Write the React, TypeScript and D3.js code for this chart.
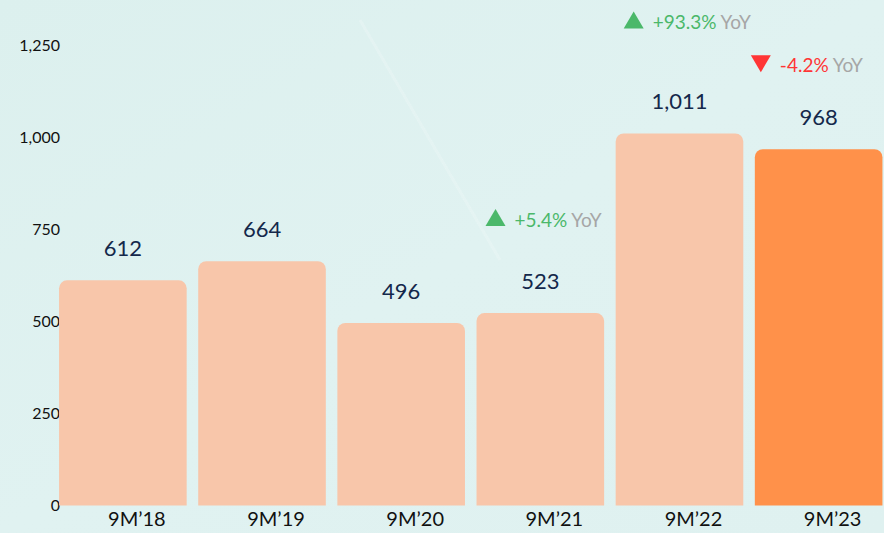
import React from 'react';
import * as d3 from 'd3';

// chart data
const categories = ['9M’18', '9M’19', '9M’20', '9M’21', '9M’22', '9M’23'];
const values = [612, 664, 496, 523, 1011, 968];
const yTicks = [0, 250, 500, 750, 1000, 1250];
const yoyCategories = ['9M’21', '9M’22', '9M’23'];
const yoyChanges = ['+5.4%', '+93.3%', '-4.2%'];

const width = 884;
const height = 533;
const font = 'Lato, "Open Sans", sans-serif';

const App = () => {
  const x = d3.scaleBand()
    .domain(categories)
    .range([53.5, 888])
    .paddingInner(0.083)
    .paddingOuter(0.04);

  const y = d3.scaleLinear()
    .domain([0, 1250])
    .range([505.5, 45.5]);

  const fmt = d3.format(',');
  const r = 8;

  // bar with rounded top corners
  const barPath = (x0, y0, w, y1) => {
    const p = d3.path();
    p.moveTo(x0, y1);
    p.lineTo(x0, y0 + r);
    p.arcTo(x0, y0, x0 + r, y0, r);
    p.lineTo(x0 + w - r, y0);
    p.arcTo(x0 + w, y0, x0 + w, y0 + r, r);
    p.lineTo(x0 + w, y1);
    p.closePath();
    return p.toString();
  };

  // hand-placed yoy callouts, relative to the bar they sit over
  const calloutDy = [86, 104, 77];
  const calloutDx = [9, 8, -4];

  return (
    <svg width={width} height={height}
      style={{ position: 'absolute', left: 0, top: 0, fontFamily: font }}>
      <defs>
        <linearGradient id="bg" x1="0" y1="0" x2="1" y2="1">
          <stop offset="0%" stopColor="#DCF0EE" />
          <stop offset="50%" stopColor="#E0F2F1" />
          <stop offset="100%" stopColor="#DFF1F0" />
        </linearGradient>
      </defs>
      <rect width={width} height={height} fill="url(#bg)" />
      <line x1={360} y1={20} x2={500} y2={260} stroke="#ffffff" strokeOpacity={0.18} strokeWidth={3} />

      {yTicks.map(t => (
        <text key={t} x={60} y={y(t)} dy="0.35em" textAnchor="end"
          fontSize={16} fill="#111">{fmt(t)}</text>
      ))}

      {categories.map((c, i) => {
        const bx = x(c);
        const bw = x.bandwidth();
        const top = y(values[i]);
        return (
          <g key={c}>
            <path d={barPath(bx, top, bw, y(0))}
              fill={i === categories.length - 1 ? '#FF914A' : '#F8C6AA'} />
            <text x={bx + bw / 2} y={top - 24} textAnchor="middle"
              fontSize={22} fill="#14284B">{fmt(values[i])}</text>
            <text x={bx + bw / 2 + 14} y={y(0) + 20} textAnchor="middle"
              fontSize={20} fill="#111">{c}</text>
          </g>
        );
      })}

      {yoyCategories.map((c, i) => {
        const idx = categories.indexOf(c);
        const up = yoyChanges[i].startsWith('+');
        const tx = x(c) + calloutDx[i];
        const base = y(values[idx]) - calloutDy[i];
        const tri = up
          ? `M${tx},${base - 1} L${tx + 20},${base - 1} L${tx + 10},${base - 18} Z`
          : `M${tx},${base - 17} L${tx + 20},${base - 17} L${tx + 10},${base} Z`;
        const col = up ? '#4BB86A' : '#FF3535';
        return (
          <g key={c}>
            <path d={tri} fill={col} />
            <text x={tx + 29} y={base} fontSize={19}>
              <tspan fill={col}>{yoyChanges[i]}</tspan>
              <tspan fill="#A6A6A6" dx={4}>YoY</tspan>
            </text>
          </g>
        );
      })}
    </svg>
  );
};

export default App;
